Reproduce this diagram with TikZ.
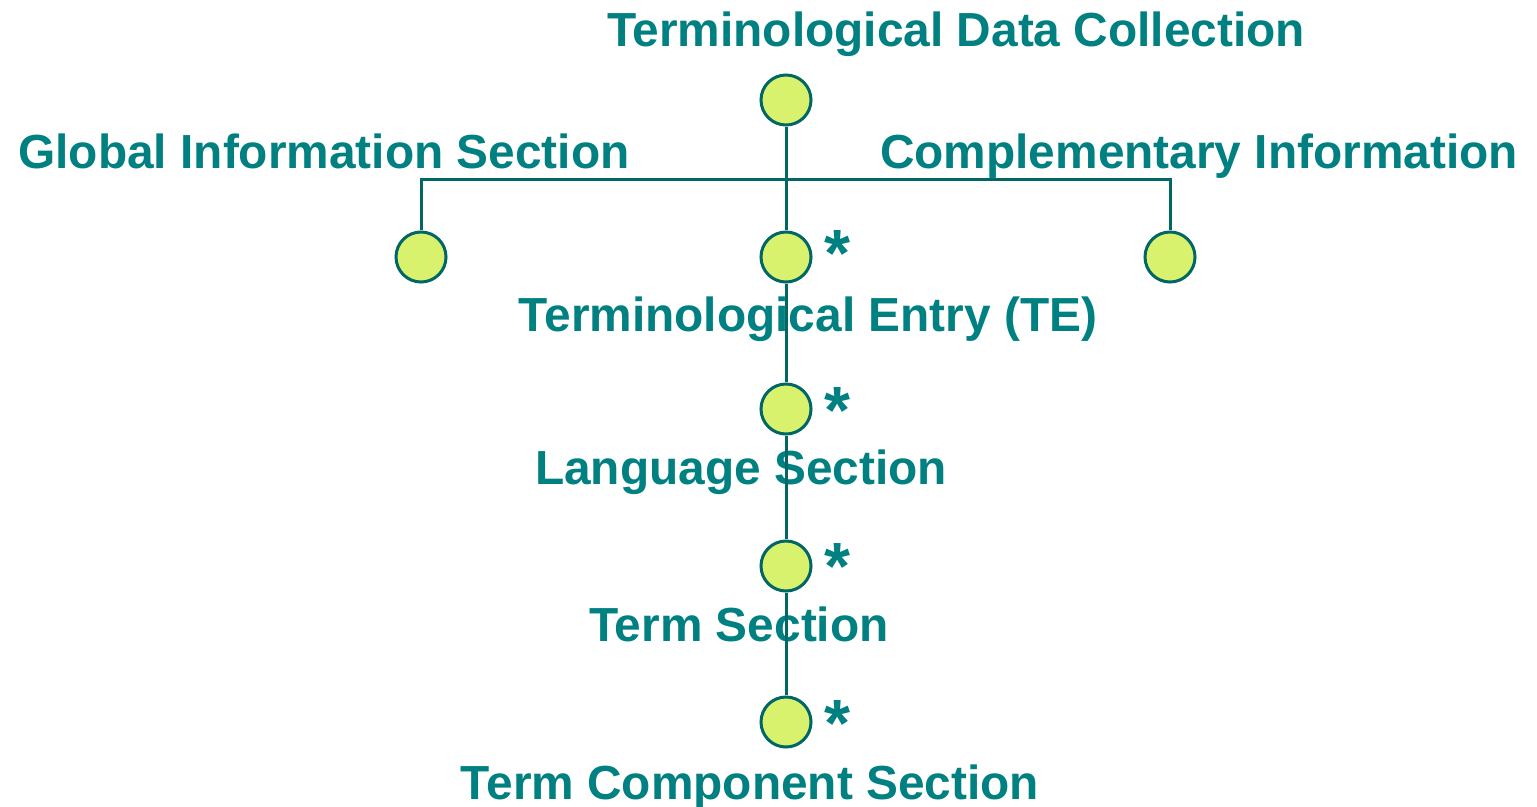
\documentclass[tikz,border=0pt]{standalone}
\usepackage{fontspec}
\setmainfont{Liberation Sans}
\definecolor{tealtext}{HTML}{008080}
\definecolor{tealline}{HTML}{006666}
\definecolor{limefill}{HTML}{D8F26E}
\tikzset{
  dot/.style={circle, draw=tealline, fill=limefill, line width=0.03cm,
              minimum size=0.5cm, inner sep=0pt},
  caption/.style={text=tealtext, font=\fontsize{13.6}{16}\selectfont\bfseries,
                  anchor=base, inner sep=0pt},
  mult/.style={text=tealtext, font=\fontsize{19}{20}\selectfont\bfseries,
               inner sep=0pt},
  link/.style={draw=tealline, line width=0.03cm}
}
\begin{document}
\begin{tikzpicture}[x=0.01cm, y=-0.01cm]
    \useasboundingbox (0, 0) rectangle (1537, 806);
    % labels
    \node[caption] (ltdc) at (956, 46) {Terminological Data Collection};
    \node[caption] (lgis) at (324, 168) {Global Information Section};
    \node[caption] (lcis) at (1199, 168) {Complementary Information};
    \node[caption] (lte) at (808, 331) {Terminological Entry (TE)};
    \node[caption] (lls) at (741, 484) {Language Section};
    \node[caption] (lts) at (739, 641) {Term Section};
    \node[caption] (ltcs) at (750, 799) {Term Component Section};
    % tree
    \coordinate (bar) at (786, 179);
    \node[dot] (tdc) at (786, 100) {};
    \node[dot] (gis) at (421, 257) {};
    \node[dot] (te) at (786, 257) {};
    \node[dot] (cis) at (1170, 257) {};
    \node[dot] (ls) at (786, 409) {};
    \node[dot] (ts) at (786, 566) {};
    \node[dot] (tcs) at (786, 722) {};
    \draw[link] (gis.north) |- (bar) -| (cis.north);
    \draw[link] (tdc) -- (te);
    \draw[link] (te) -- (ls);
    \draw[link] (ls) -- (ts);
    \draw[link] (ts) -- (tcs);
    % repeatable children
    \node[mult] (ste) at (837, 254) {*};
    \node[mult] (sls) at (837, 411) {*};
    \node[mult] (sts) at (837, 567) {*};
    \node[mult] (stcs) at (837, 724) {*};
\end{tikzpicture}
\end{document}
